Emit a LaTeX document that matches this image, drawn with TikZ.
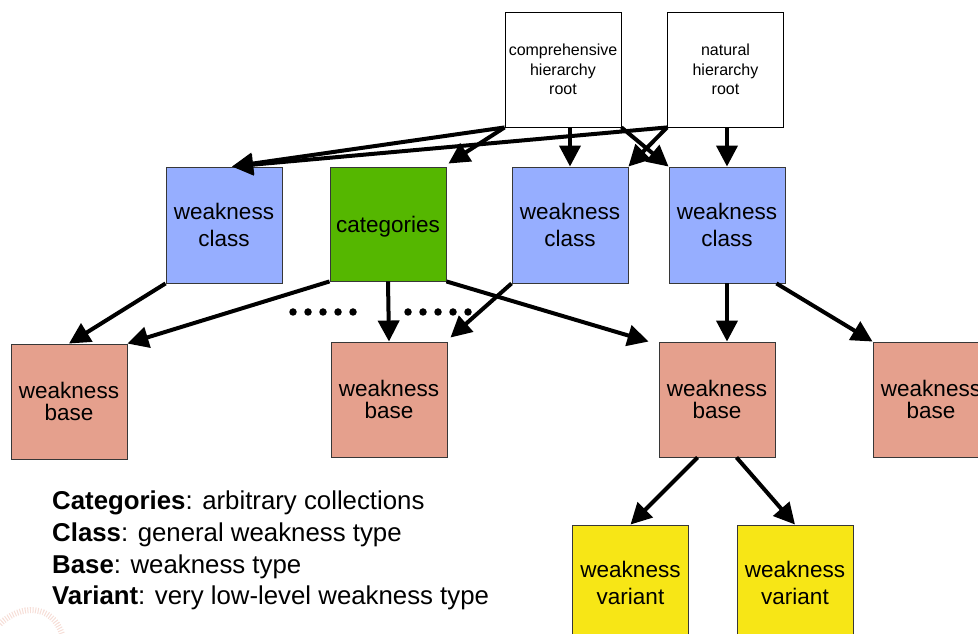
\documentclass[tikz,border=0pt]{standalone}
\usepackage{fontspec}
\setmainfont{Liberation Sans}
\usetikzlibrary{arrows.meta}
\definecolor{clsblue}{RGB}{150,174,255}
\definecolor{catgreen}{RGB}{85,183,0}
\definecolor{basesalmon}{RGB}{229,160,141}
\definecolor{varyellow}{RGB}{247,230,22}
\definecolor{edgegray}{RGB}{55,55,55}
\begin{document}
\begin{tikzpicture}[x=1pt,y=1pt,
  box/.style={draw=edgegray, line width=0.9pt, minimum width=116pt, minimum height=116pt,
    inner sep=0pt, align=center, font=\fontsize{22.5}{27}\selectfont},
  rootbox/.style={box, fill=white, draw=black, minimum height=115pt, font=\fontsize{16}{19.5}\selectfont},
  classbox/.style={box, fill=clsblue},
  catbox/.style={box, fill=catgreen, minimum height=114pt},
  basebox/.style={box, fill=basesalmon, minimum height=115pt, font=\fontsize{22.5}{22}\selectfont},
  varbox/.style={box, fill=varyellow},
  link/.style={line width=4pt, -{Triangle[length=21pt,width=21pt]}},
  dot/.style={circle, fill=black, inner sep=0pt, minimum size=7.5pt},
  legend/.style={anchor=base west, inner sep=0pt, font=\fontsize{25.8}{30}\selectfont},
]
\useasboundingbox (0,0) rectangle (978,634);

% faint decorative swirl in the lower left corner
\draw[basesalmon, opacity=0.35, line width=6pt, dash pattern=on 1pt off 1.6pt]
  (0,10) .. controls (20,30) and (52,30) .. (62,0);

% hierarchy roots
\node[rootbox] (comp) at (563,564.5) {comprehensive\\hierarchy\\root};
\node[rootbox] (nat)  at (725.5,564.5) {natural\\hierarchy\\root};

% second row
\node[classbox] (cls1) at (224,409) {weakness\\class};
\node[catbox, label={[font=\fontsize{22.5}{27}\selectfont, inner sep=0pt, yshift=-3pt]center:categories}]
  (cat) at (388,410) {};
\node[classbox] (cls2) at (570,409) {weakness\\class};
\node[classbox] (cls3) at (727,409) {weakness\\class};

% weakness bases
\node[basebox] (base1) at (69,232.5) {weakness\\base};
\node[basebox] (base2) at (389,234.5) {weakness\\base};
\node[basebox] (base3) at (717,234.5) {weakness\\base};
\node[basebox] (base4) at (931,234.5) {weakness\\base};

% weakness variants
\node[varbox] (var1) at (630.5,51) {weakness\\variant};
\node[varbox] (var2) at (795,51) {weakness\\variant};

% connectors from the roots
\draw[link] (comp.south west) -- ([xshift=8pt]cls1.north);
\draw[link] (nat.south west) -- ([xshift=8pt]cls1.north);
\draw[link] (comp.south west) -- ([shift={(2pt,3pt)}]cat.north east);
\draw[link] (comp.south -| cls2.north) -- (cls2.north);
\draw[link] (comp.south east) -- (cls3.north west);
\draw[link] (nat.south west) -- (cls2.north east);
\draw[link] (nat.south -| cls3.north) -- (cls3.north);

% connectors to the bases
\draw[link] (cls1.south west) -- (base1.north);
\draw[link] (cat.south west) -- (base1.north east);
\draw[link] (cat.south) -- (base2.north);
\draw[link] (cat.south east) -- ([xshift=-10pt]base3.north west);
\draw[link] (cls2.south west) -- ([shift={(3pt,4pt)}]base2.north east);
\draw[link] (cls3.south) -- (cls3.south |- base3.north);
\draw[link] ([xshift=-9pt]cls3.south east) -- (base4.north west);

% connectors to the variants
\draw[link] ([xshift=-19.5pt]base3.south) -- (var1.north);
\draw[link] ([xshift=19.5pt]base3.south) -- (var2.north);

% ellipsis dots
\foreach \i/\x in {1/293,2/308,3/323,4/338,5/353} \node[dot] (dl\i) at (\x,322) {};
\foreach \i/\x in {1/408,2/423,3/438,4/453,5/468} \node[dot] (dr\i) at (\x,322) {};

% legend
\node[legend] (l1) at (52,124) {\textbf{Categories}: arbitrary collections};
\node[legend] (l2) at (52,92)  {\textbf{Class}: general weakness type};
\node[legend] (l3) at (52,60)  {\textbf{Base}: weakness type};
\node[legend] (l4) at (52,29)  {\textbf{Variant}: very low-level weakness type};
\end{tikzpicture}
\end{document}
